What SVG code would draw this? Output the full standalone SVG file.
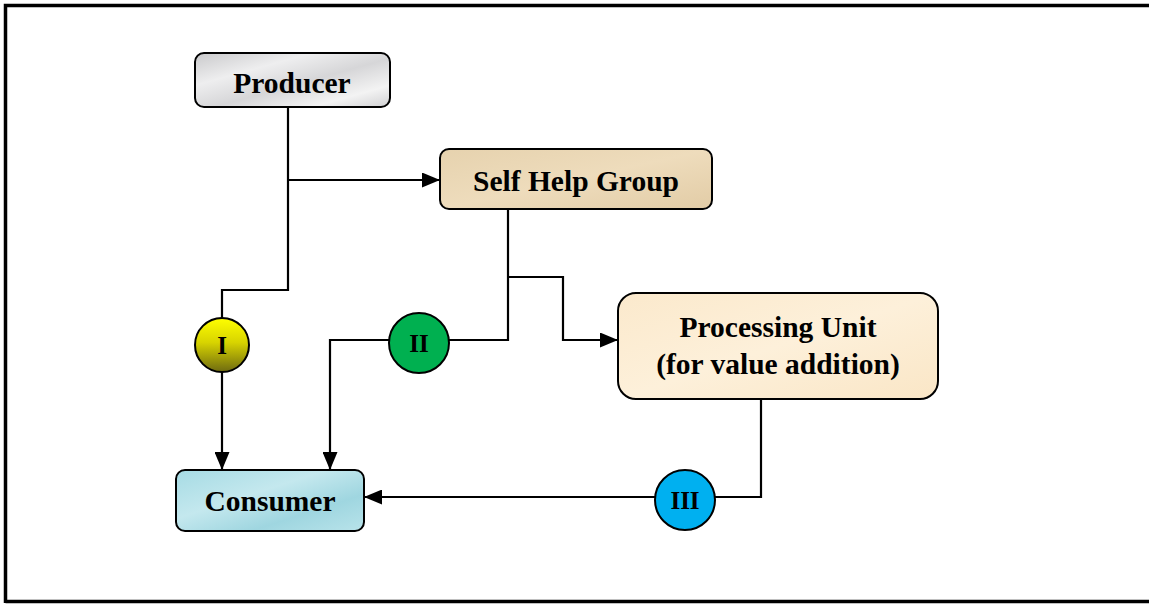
<svg xmlns="http://www.w3.org/2000/svg" width="1149" height="604" viewBox="0 0 1149 604">
<defs>
<style>
.box{stroke:#000;stroke-width:2}
.lbl{font-family:"Liberation Serif","Times New Roman",serif;font-weight:bold;font-size:29.5px;fill:#000;text-anchor:middle}
.num{font-family:"Liberation Serif","Times New Roman",serif;font-weight:bold;font-size:25px;fill:#000;text-anchor:middle}
.ln{fill:none;stroke:#000;stroke-width:2.2}
.circ{stroke:#000;stroke-width:2}
</style>
<marker id="arr" viewBox="0 0 18 15" refX="18" refY="7.5" markerWidth="18" markerHeight="15" markerUnits="userSpaceOnUse" orient="auto">
<path d="M0,0 L18,7.5 L0,15 Z" fill="#000"/>
</marker>
<linearGradient id="gProd" x1="0" y1="0" x2="1" y2="1">
<stop offset="0" stop-color="#c9c9cb"/>
<stop offset="0.3" stop-color="#eeeeef"/>
<stop offset="0.55" stop-color="#d6d6d8"/>
<stop offset="0.8" stop-color="#f3f3f3"/>
<stop offset="1" stop-color="#d0d0d2"/>
</linearGradient>
<linearGradient id="gShg" x1="0" y1="0" x2="1" y2="1">
<stop offset="0" stop-color="#e6d2ae"/>
<stop offset="0.5" stop-color="#eedcbc"/>
<stop offset="1" stop-color="#e2cca6"/>
</linearGradient>
<linearGradient id="gProc" x1="0" y1="0" x2="1" y2="1">
<stop offset="0" stop-color="#fbe9cc"/>
<stop offset="0.5" stop-color="#fdf0da"/>
<stop offset="1" stop-color="#fae6c6"/>
</linearGradient>
<linearGradient id="gCons" x1="0" y1="0" x2="1" y2="1">
<stop offset="0" stop-color="#a6dbe4"/>
<stop offset="0.4" stop-color="#c4e8ee"/>
<stop offset="0.7" stop-color="#9fd6e0"/>
<stop offset="1" stop-color="#b8e3ea"/>
</linearGradient>
<linearGradient id="gYel" x1="0" y1="0" x2="0" y2="1">
<stop offset="0" stop-color="#ffff00"/>
<stop offset="0.45" stop-color="#d8d400"/>
<stop offset="1" stop-color="#6e6a10"/>
</linearGradient>
</defs>
<rect x="0" y="0" width="1149" height="604" fill="#fff"/>
<path d="M5.5,603 L5.5,5.5 L1149,5.5 M5.5,601.5 L1149,601.5" fill="none" stroke="#000" stroke-width="3.5"/>

<g id="connectors">
<path class="ln" d="M288,107 L288,290 L222,290 L222,318"/>
<path class="ln" d="M222,372 L222,470" marker-end="url(#arr)"/>
<path class="ln" d="M288,180 L440,180" marker-end="url(#arr)"/>
<path class="ln" d="M508,209 L508,340 L449,340"/>
<path class="ln" d="M389,340 L330,340 L330,470" marker-end="url(#arr)"/>
<path class="ln" d="M508,277 L563,277 L563,340 L618,340" marker-end="url(#arr)"/>
<path class="ln" d="M761,399 L761,497 L715,497"/>
<path class="ln" d="M655,497 L364,497" marker-end="url(#arr)"/>
</g>

<g id="producer">
<rect class="box" x="195" y="53" width="195" height="54" rx="9" fill="url(#gProd)"/>
<text class="lbl" x="292" y="93">Producer</text>
</g>
<g id="shg">
<rect class="box" x="440" y="149" width="272" height="60" rx="9" fill="url(#gShg)"/>
<text class="lbl" x="576" y="191">Self Help Group</text>
</g>
<g id="processing">
<rect class="box" x="618" y="293" width="320" height="106" rx="18" fill="url(#gProc)"/>
<text class="lbl" x="778" y="337">Processing Unit</text>
<text class="lbl" x="778" y="374">(for value addition)</text>
</g>
<g id="consumer">
<rect class="box" x="176" y="470" width="188" height="61" rx="9" fill="url(#gCons)"/>
<text class="lbl" x="270" y="511">Consumer</text>
</g>
<g id="c1">
<circle class="circ" cx="222" cy="345" r="27" fill="url(#gYel)"/>
<text class="num" x="222" y="354">I</text>
</g>
<g id="c2">
<circle class="circ" cx="419" cy="343" r="30" fill="#00b050"/>
<text class="num" x="419" y="352">II</text>
</g>
<g id="c3">
<circle class="circ" cx="685" cy="500" r="30" fill="#00b0f0"/>
<text class="num" x="685" y="509">III</text>
</g>
</svg>
